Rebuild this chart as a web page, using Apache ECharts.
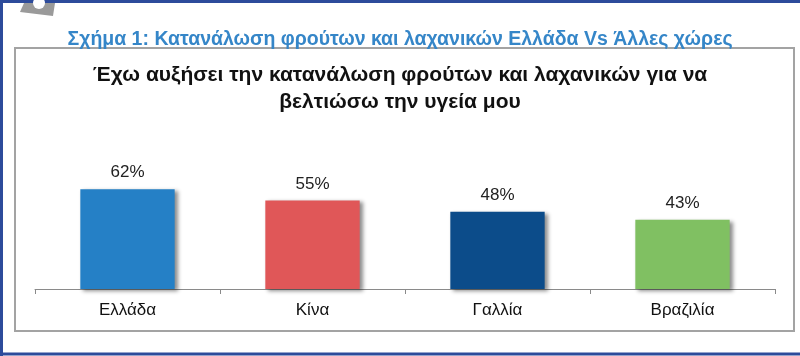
<!DOCTYPE html>
<html>
<head>
<meta charset="utf-8">
<script src="https://cdn.jsdelivr.net/npm/echarts@6/dist/echarts.min.js"></script>
<style>
html,body{margin:0;padding:0;background:#fff;}
#c{width:800px;height:356px;}
</style>
</head>
<body>
<div id="c"></div>
<script>
var categories = ['Ελλάδα', 'Κίνα', 'Γαλλία', 'Βραζιλία'];
var values = [62, 55, 48, 43];
var barColors = ['#2580c6', '#e05758', '#0c4c8a', '#80c062'];
var headerTitle = 'Σχήμα 1: Κατανάλωση φρούτων και λαχανικών Ελλάδα Vs Άλλες χώρες';
var chartTitle = 'Έχω αυξήσει την κατανάλωση φρούτων και λαχανικών για να\nβελτιώσω την υγεία μου';

var chart = echarts.init(document.getElementById('c'), null, {renderer: 'canvas'});
chart.setOption({
  backgroundColor: '#fff',
  animation: false,
  textStyle: {fontFamily: 'Liberation Sans, Arial, sans-serif'},
  title: [{
    text: headerTitle,
    left: 'center',
    top: 25,
    textStyle: {fontSize: 19.5, fontWeight: 'bold', color: '#3586c8', fontFamily: 'Liberation Sans, Arial, sans-serif'}
  }, {
    text: chartTitle,
    left: 'center',
    top: 57,
    textStyle: {fontSize: 21, fontWeight: 'bold', color: '#111', lineHeight: 27, fontFamily: 'Liberation Sans, Arial, sans-serif'}
  }],
  graphic: [
    {type: 'rect', shape: {x: 15, y: 48, width: 779, height: 283}, style: {fill: 'none', stroke: '#a3a3a3', lineWidth: 2}, z: -1},
    {type: 'polyline', shape: {points: [[1.5, 356], [1.5, 1.5], [800, 1.5]]}, style: {fill: 'none', stroke: '#2d4b9b', lineWidth: 3}},
    {type: 'line', shape: {x1: 0, y1: 354, x2: 800, y2: 354}, style: {stroke: '#2d4b9b', lineWidth: 3}},
    {type: 'polygon', shape: {points: [[24, 3], [55, 3], [53, 16], [20, 12]]}, style: {fill: '#9a9a9a'}},
    {type: 'circle', shape: {cx: 39, cy: 3, r: 6}, style: {fill: '#fff'}}
  ],
  grid: {left: 35, right: 25, top: 128, bottom: 67},
  xAxis: {
    type: 'category',
    data: categories,
    axisLine: {lineStyle: {color: '#8a8a8a', width: 1}},
    axisTick: {show: true, length: 5, lineStyle: {color: '#8a8a8a'}},
    axisLabel: {fontSize: 17, color: '#111', margin: 13}
  },
  yAxis: {
    type: 'value', min: 0, max: 100, show: false,
    splitLine: {show: false}
  },
  series: [{
    type: 'bar',
    barWidth: '51%',
    data: values.map(function (v, i) {
      return {value: v, itemStyle: {color: barColors[i]}};
    }),
    itemStyle: {shadowColor: 'rgba(0,0,0,0.45)', shadowBlur: 4, shadowOffsetX: 3, shadowOffsetY: 2},
    label: {show: true, position: 'top', distance: 8, fontSize: 17, color: '#222', formatter: '{c}%'}
  }]
});
</script>
</body>
</html>
